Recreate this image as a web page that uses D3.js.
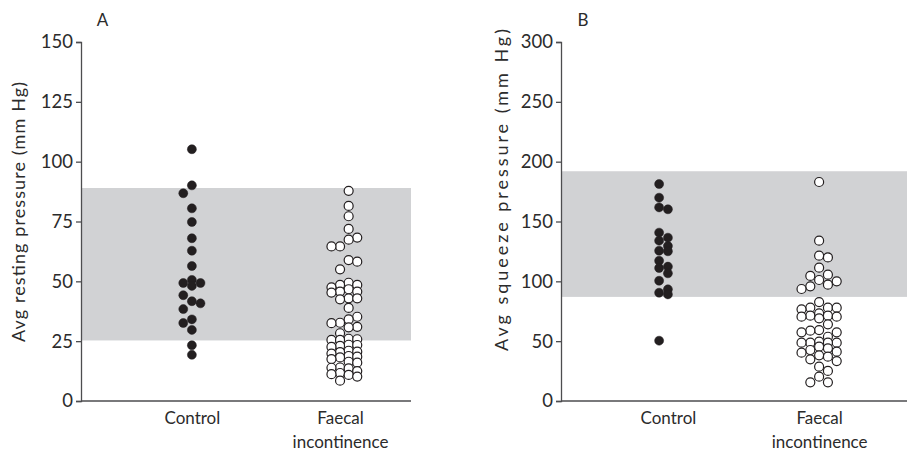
<!DOCTYPE html>
<html>
<head>
<meta charset="utf-8">
<script src="https://cdn.jsdelivr.net/npm/d3@7"></script>
<style>
  html, body { margin: 0; padding: 0; background: #fff; }
  svg { display: block; }
  text { font-family: Lato, "Open Sans", sans-serif; fill: #2b2b2b; }
</style>
</head>
<body>
<svg id="chart" width="907" height="453"></svg>
<script>
// ---------- data ----------
const categories = ["Control", "Faecal incontinence"];

const restingControl = [105.2, 90.1, 86.8, 80.5, 74.8, 68.0, 62.8, 56.4, 50.6, 49.3, 49.3, 48.1,
  44.2, 41.7, 40.8, 38.4, 34.1, 32.6, 29.7, 23.3, 19.3];

const restingFaecal = [87.8, 81.5, 77.2, 71.9, 68.3, 67.4, 64.6, 64.6, 58.9, 58.2, 55.0,
  49.4, 48.5, 48.5, 47.5, 46.7, 45.7, 45.7, 45.3, 42.9, 42.9, 42.5, 38.9,
  35.2, 34.1, 32.7, 32.5, 31.0, 30.8, 28.3,
  26.0, 25.8, 25.5, 25.5, 23.5, 23.4, 23.0, 22.6, 21.0, 20.6, 20.4, 19.8,
  18.8, 18.5, 18.2, 17.5, 16.4, 16.0, 14.0, 13.9, 13.6, 12.5, 11.7, 11.2, 10.9, 10.2, 8.5];

const squeezeControl = [181.3, 169.9, 161.8, 160.2, 140.7, 136.5, 134.0, 129.5, 125.6, 125.1,
  117.2, 112.3, 111.1, 106.7, 100.5, 93.3, 90.5, 89.1, 50.4];

const squeezeFaecal = [183.0, 134.0, 121.4, 120.0, 111.4, 105.6, 104.5, 101.1, 100.0, 97.2, 95.8, 93.6,
  82.7, 78.0, 78.0, 78.0, 76.6, 73.3, 71.3, 71.3, 70.5, 70.5, 69.1, 64.1,
  59.3, 58.8, 57.4, 57.4, 53.7, 49.6, 48.7, 48.7, 48.7, 48.7, 45.4, 44.0,
  42.6, 41.2, 40.4, 38.2, 37.0, 34.8, 33.4, 28.7, 25.1, 20.3, 15.6, 15.6];

const restingTicks = [0, 25, 50, 75, 100, 125, 150];
const squeezeTicks = [0, 50, 100, 150, 200, 250, 300];

const restingNormalRange = [25.3, 89];
const squeezeNormalRange = [87, 192];

const panelLetters = ["A", "B"];
const yTitles = ["Avg resting pressure (mm Hg)", "Avg squeeze pressure (mm Hg)"];

// ---------- layout ----------
const svg = d3.select("#chart");
const plotTop = 42, plotBottom = 401;
const ink = "#231f20";
const axisCol = "#4d4d4f";
const bandCol = "#d1d2d4";
const R = 4.5;

const panels = [
  { left: 81, right: 411, yMax: 150, ticks: restingTicks, range: restingNormalRange,
    groups: [restingControl, restingFaecal], catRange: [0.336, 0.785],
    lanes: [[0, -1, 1], [1, 2, 0, -1]], laneW: 8.6,
    letter: panelLetters[0], letterX: 102.5,
    title: yTitles[0], titleX: 25, titleY: 212, titleLen: 260 },
  { left: 561, right: 907, yMax: 300, ticks: squeezeTicks, range: squeezeNormalRange,
    groups: [squeezeControl, squeezeFaecal], catRange: [0.309, 0.746],
    lanes: [[-1, 0], [0, 1, -1, 2, -2]], laneW: 8.8,
    letter: panelLetters[1], letterX: 583,
    title: yTitles[1], titleX: 508, titleY: 190, titleLen: 322 }
];

function swarm(values, y, laneOrder, gap) {
  const placed = [];
  values.slice().sort((a, b) => b - a).forEach(v => {
    const py = y(v);
    let best = laneOrder[0], bestDist = -1;
    for (const L of laneOrder) {
      const ds = placed.filter(p => p.lane === L).map(p => Math.abs(p.py - py));
      const m = ds.length ? Math.min(...ds) : Infinity;
      if (m >= gap) { best = L; bestDist = m; break; }
      if (m > bestDist) { bestDist = m; best = L; }
    }
    placed.push({ v, py, lane: best });
  });
  return placed;
}

panels.forEach((p, pi) => {
  const g = svg.append("g");
  const y = d3.scaleLinear().domain([0, p.yMax]).range([plotBottom, plotTop]);
  const w = p.right - p.left;
  const x = d3.scalePoint().domain(categories)
    .range([p.left + p.catRange[0] * w, p.left + p.catRange[1] * w]);

  // normal range band
  g.append("rect")
    .attr("x", p.left).attr("width", w)
    .attr("y", y(p.range[1])).attr("height", y(p.range[0]) - y(p.range[1]))
    .attr("fill", bandCol);

  // y axis
  const ya = g.append("g").attr("transform", `translate(${p.left},0)`)
    .call(d3.axisLeft(y).tickValues(p.ticks).tickSize(5).tickPadding(3));
  ya.select(".domain").attr("stroke", axisCol).attr("stroke-width", 1.3);
  ya.selectAll(".tick line").attr("stroke", axisCol).attr("stroke-width", 1.3);
  ya.selectAll(".tick text").attr("font-size", 18.5)
    .attr("font-family", "Lato, sans-serif").attr("fill", "#2b2b2b");

  // x axis (line + labels, no ticks)
  const xa = g.append("g").attr("transform", `translate(0,${plotBottom})`)
    .call(d3.axisBottom(x).tickSize(0).tickFormat(() => ""));
  xa.select(".domain").attr("d", `M${p.left},0H${p.right}`)
    .attr("stroke", axisCol).attr("stroke-width", 1.3);
  xa.selectAll(".tick").each(function(d) {
    const t = d3.select(this).append("text")
      .attr("text-anchor", "middle").attr("font-size", 17);
    d.split(" ").forEach((word, i) => {
      t.append("tspan").attr("x", 0).attr("y", 23 + i * 24).text(word);
    });
  });

  // y title
  g.append("text")
    .attr("transform", `translate(${p.titleX},${p.titleY}) rotate(-90)`)
    .attr("text-anchor", "middle").attr("font-size", 18)
    .attr("textLength", p.titleLen).attr("lengthAdjust", "spacing")
    .text(p.title);

  // panel letter
  g.append("text").attr("x", p.letterX).attr("y", 26)
    .attr("text-anchor", "middle").attr("font-size", 17)
    .text(p.letter);

  // points
  p.groups.forEach((vals, gi) => {
    const pts = swarm(vals, y, p.lanes[gi], 9.5);
    g.append("g").selectAll("circle").data(pts).join("circle")
      .attr("cx", d => x(categories[gi]) + d.lane * p.laneW)
      .attr("cy", d => y(d.v))
      .attr("r", R)
      .attr("fill", gi === 0 ? ink : "#fff")
      .attr("stroke", ink)
      .attr("stroke-width", gi === 0 ? 0.5 : 1.2);
  });
});
</script>
</body>
</html>
